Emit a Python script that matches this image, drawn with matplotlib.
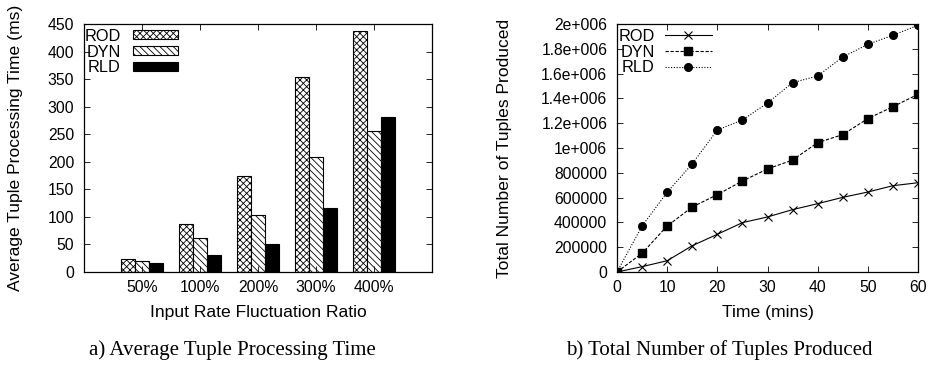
import matplotlib
matplotlib.use("Agg")
import matplotlib.pyplot as plt
import numpy as np

plt.rcParams['font.family'] = ['Liberation Sans', 'DejaVu Sans']
plt.rcParams['hatch.linewidth'] = 0.6

# -----------------------------
# data: panel a (bars)
# -----------------------------
ratios = ["50%", "100%", "200%", "300%", "400%"]
rod_ms = [23, 87, 174, 353, 437]
dyn_ms = [20, 62, 103, 208, 256]
rld_ms = [17, 31, 50, 116, 282]

# -----------------------------
# data: panel b (lines)
# -----------------------------
minutes = [0, 5, 10, 15, 20, 25, 30, 35, 40, 45, 50, 55, 60]
rod_tuples = [0, 43000, 91000, 212000, 304000, 398000, 444000, 503000,
              551000, 602000, 645000, 696000, 720000]
dyn_tuples = [0, 151000, 371000, 524000, 624000, 734000, 831000, 903000,
              1043000, 1108000, 1237000, 1333000, 1433000]
rld_tuples = [0, 371000, 643000, 873000, 1145000, 1226000, 1363000, 1527000,
              1581000, 1734000, 1836000, 1909000, 1990000]
y_ticks_b = [0, 200000, 400000, 600000, 800000, 1000000, 1200000,
             1400000, 1600000, 1800000, 2000000]
y_labels_b = ["0", "200000", "400000", "600000", "800000", "1e+006",
              "1.2e+006", "1.4e+006", "1.6e+006", "1.8e+006", "2e+006"]

tick_fs = 11.3
label_fs = 12.6
leg_fs = 11.7

fig = plt.figure(figsize=(9.29, 3.66), dpi=100)
ax1 = fig.add_axes([84 / 929, 1 - 272 / 366, 348 / 929, 248 / 366])
ax2 = fig.add_axes([617 / 929, 1 - 272 / 366, 301 / 929, 248 / 366])

# -----------------------------
# panel a
# -----------------------------
x = np.arange(1, len(ratios) + 1)
w = 0.24
ax1.bar(x - w, rod_ms, w, color="white", edgecolor="black", hatch="xxxxx",
        linewidth=0.8, label="ROD")
ax1.bar(x, dyn_ms, w, color="white", edgecolor="black", hatch="\\\\\\\\\\",
        linewidth=0.8, label="DYN")
ax1.bar(x + w, rld_ms, w, color="black", edgecolor="black",
        linewidth=0.8, label="RLD")
ax1.set_xlim(0, 6)
ax1.set_ylim(0, 450)
ax1.set_xticks(x)
ax1.set_xticklabels(ratios)
ax1.set_yticks(range(0, 451, 50))
ax1.set_xlabel("Input Rate Fluctuation Ratio", fontsize=label_fs, va="center")
ax1.set_ylabel("Average Tuple Processing Time (ms)", fontsize=label_fs, va="center")
ax1.xaxis.set_label_coords(0.5, (272 - 312) / 248)
ax1.yaxis.set_label_coords((16 - 84) / 348, 0.5)
ax1.legend(loc="upper left", bbox_to_anchor=(-0.012, 1.0), markerfirst=False,
           frameon=False, fontsize=leg_fs,
           handlelength=2.8, handleheight=0.45, labelspacing=0.06,
           borderaxespad=0.0, borderpad=0.28, handletextpad=0.75)

# -----------------------------
# panel b
# -----------------------------
ax2.plot(minutes, rod_tuples, color="black", lw=0.8, ls="-", marker="x",
         ms=6, mew=0.8, label="ROD")
ax2.plot(minutes, dyn_tuples, color="black", lw=0.8, ls=(0, (3, 1.5)), marker="s",
         ms=5.5, label="DYN")
ax2.plot(minutes, rld_tuples, color="black", lw=0.8, ls=(0, (1, 1.5)), marker="o",
         ms=5.5, label="RLD")
ax2.set_xlim(0, 60)
ax2.set_ylim(0, 2000000)
ax2.set_xticks(range(0, 61, 10))
ax2.set_yticks(y_ticks_b)
ax2.set_yticklabels(y_labels_b)
ax2.set_xlabel("Time (mins)", fontsize=label_fs, va="center")
ax2.set_ylabel("Total Number of Tuples Produced", fontsize=label_fs, va="center")
ax2.xaxis.set_label_coords(0.5, (272 - 312) / 248)
ax2.yaxis.set_label_coords((505 - 617) / 301, 0.5)
ax2.legend(loc="upper left", bbox_to_anchor=(-0.01, 1.0), markerfirst=False,
           frameon=False, fontsize=leg_fs,
           handlelength=2.9, labelspacing=0.06, borderaxespad=0.0,
           borderpad=0.28, handletextpad=0.6)

for ax in (ax1, ax2):
    ax.tick_params(direction="in", top=True, right=True, labelsize=tick_fs,
                   length=4, width=0.6)
    ax.tick_params(axis="y", pad=7)
    ax.tick_params(axis="x", pad=6)
    for s in ax.spines.values():
        s.set_linewidth(0.9)

# captions
fig.text(232 / 929, 1 - 350 / 366, "a) Average Tuple Processing Time",
         ha="center", va="center", fontsize=15, family="Liberation Serif")
fig.text(719 / 929, 1 - 350 / 366, "b) Total Number of Tuples Produced",
         ha="center", va="center", fontsize=15, family="Liberation Serif")

fig.savefig("out.png", dpi=100)
